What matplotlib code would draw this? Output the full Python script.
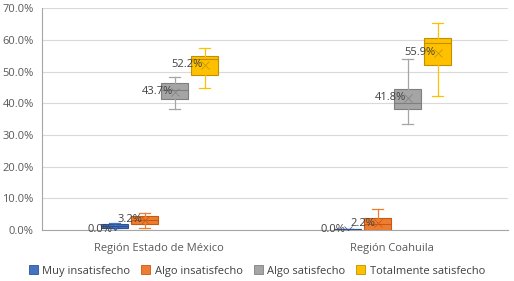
import matplotlib
matplotlib.use("Agg")
import matplotlib.pyplot as plt

plt.rcParams['font.family'] = ['Open Sans', 'DejaVu Sans']

regions = ["Región Estado de México", "Región Coahuila"]
series = ["Muy insatisfecho", "Algo insatisfecho", "Algo satisfecho", "Totalmente satisfecho"]
colors = ["#4472C4", "#ED7D31", "#A5A5A5", "#FFC000"]
edges = ["#2F528F", "#C55A11", "#7F7F7F", "#BF9000"]

# box statistics per region, per series (percent)
whislo = [[0.0, 0.7, 38.1, 44.8], [0.0, 0.0, 33.4, 42.3]]
q1 = [[0.5, 2.0, 41.4, 49.0], [0.0, 0.0, 38.1, 52.0]]
med = [[1.2, 3.2, 44.3, 54.0], [0.2, 1.8, 40.2, 59.1]]
q3 = [[2.0, 4.3, 46.3, 54.9], [0.4, 3.7, 44.5, 60.6]]
whishi = [[2.3, 5.3, 48.2, 57.6], [0.4, 6.5, 53.9, 65.5]]
means = [[0.0, 3.2, 43.7, 52.2], [0.0, 2.2, 41.8, 55.9]]

fig = plt.figure(figsize=(5.14, 2.81), dpi=100)
ax = fig.add_axes([42 / 514, 1 - 230 / 281, 466 / 514, (230 - 8.3) / 281])

step = 0.129
width = 0.116
for s in range(len(series)):
    stats = []
    pos = []
    for r in range(len(regions)):
        stats.append(dict(whislo=whislo[r][s], q1=q1[r][s], med=med[r][s],
                          q3=q3[r][s], whishi=whishi[r][s], mean=means[r][s], fliers=[]))
        pos.append(r + (s - 1.5) * step + 0.005)
    ax.bxp(stats, positions=pos, widths=width, showmeans=True, patch_artist=True,
           boxprops=dict(facecolor=colors[s], edgecolor=edges[s], linewidth=0.8),
           medianprops=dict(color=edges[s], linewidth=0.8),
           whiskerprops=dict(color=colors[s], linewidth=0.9),
           capprops=dict(color=colors[s], linewidth=0.9),
           capwidths=width * 0.4,
           meanprops=dict(marker='x', markeredgecolor=edges[s], markersize=6, markeredgewidth=0.5),
           zorder=3)
    for r in range(len(regions)):
        ax.text(pos[r] - 0.008, means[r][s], "%.1f%%" % means[r][s], ha='right', va='center',
                fontsize=8, color='#404040', zorder=4)

ax.set_xlim(-0.5, 1.5)
ax.set_ylim(0, 70)
ax.set_yticks(range(0, 71, 10))
ax.set_yticklabels(["%.1f%%" % v for v in range(0, 71, 10)])
ax.set_xticks(range(len(regions)))
ax.set_xticklabels(regions)
ax.tick_params(length=0, labelsize=8, labelcolor='#595959', pad=6)
ax.tick_params(axis='x', pad=9)
ax.grid(axis='y', color='#D9D9D9', linewidth=0.8, zorder=0)
ax.set_axisbelow(True)
for side in ['top', 'right']:
    ax.spines[side].set_visible(False)
for side in ['left', 'bottom']:
    ax.spines[side].set_color('#A6A6A6')
    ax.spines[side].set_linewidth(0.8)

handles = [plt.Rectangle((0, 0), 1, 1, facecolor=colors[i], edgecolor=edges[i], linewidth=0.6)
           for i in range(len(series))]
fig.legend(handles, series, loc='center', bbox_to_anchor=(0.5, 1 - 271 / 281), ncol=4,
           frameon=False, fontsize=8, labelcolor='#404040', handlelength=0.8, handleheight=0.8,
           handletextpad=0.4, columnspacing=1.0)

fig.savefig("out.png", dpi=100)
